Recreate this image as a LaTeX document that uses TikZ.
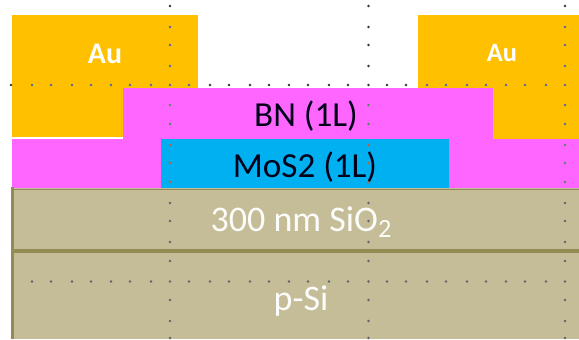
\documentclass[tikz,border=0pt]{standalone}
\usepackage{fontspec}
\setmainfont{Carlito}
\usetikzlibrary{positioning}

\definecolor{aucol}{HTML}{FFC000}
\definecolor{bncol}{HTML}{FF66FF}
\definecolor{moscol}{HTML}{00B0F0}
\definecolor{sicol}{HTML}{C4BD97}
\definecolor{edgecol}{HTML}{948A54}
\definecolor{dotblack}{HTML}{333333}
\definecolor{dotblue}{HTML}{4A67A8}
\definecolor{dotgreen}{HTML}{4E8A5A}
\definecolor{dotred}{HTML}{B8643C}
\definecolor{dotgray}{HTML}{62626E}

\tikzset{
    layertext/.style={font=\fontsize{20}{22}\selectfont, text=black!90!blue},
    oxidetext/.style={font=\fontsize{20.5}{22}\selectfont, text=white!95!sicol},
    autext/.style={font=\bfseries\fontsize{17}{19}\selectfont, text=white},
    griddot/.style={fill=#1}
}

\begin{document}
\begin{tikzpicture}[x=0.02cm, y=-0.02cm]
    \useasboundingbox (0,0) rectangle (579,339);

    % metal contacts
    \fill[aucol] (12,15) rectangle (198,137);
    \fill[aucol] (418,15) rectangle (579,139);

    % flakes
    \fill[bncol] (12,139) rectangle (579,188);
    \fill[bncol] (123,88) rectangle (493,139);
    \fill[moscol] (161,139) rectangle (449,188);

    % substrate
    \fill[sicol] (12,188) rectangle (579,339);
    \draw[edgecol, line width=2pt] (12.5,187) -- (12.5,339);
    \draw[edgecol, line width=1pt] (12,189.5) -- (579,189.5);
    \draw[edgecol, line width=1.8pt] (12,251) -- (579,251);

    % dotted guides
    \foreach \dotcol/\xlist in {dotblack/{11,210,229,250,269,289,308,329,348,368.5,387,406},
                                dotblue/{32,51,72,91,111,130,151,170,189,427,446,467,486,506,525,546,565}}
        \foreach \posx in \xlist
            \fill[griddot=\dotcol] (\posx,85) circle (0.8pt);
    \foreach \posx in {32,51,72,91,111,130,151,170,189,210,229,250,269,289,308,329,348,368.5,387,406,427,446,467,486,506,525,546,565}
        \fill[griddot=dotgray] (\posx,281.5) circle (0.8pt);
    \foreach \posx/\dotcol/\ylist in {170/dotblack/{6},170/dotblue/{27,45,66},170/dotgreen/{105,124},170/dotred/{145,163,182},
                                      368.5/dotblack/{6,27,45,66},368.5/dotgreen/{105,124},368.5/dotred/{145,163,182},
                                      565/dotblack/{6},565/dotblue/{27,45,66,105,124},565/dotgreen/{145,163,182}}
        \foreach \posy in \ylist
            \fill[griddot=\dotcol] (\posx,\posy) circle (0.8pt);
    \foreach \posx in {170,368.5,565}
        \foreach \posy in {203,221,242,261,300,321,338}
            \fill[griddot=dotgray] (\posx,\posy) circle (0.8pt);

    % labels
    \node[autext] (auleft) at (105,54) {Au};
    \node[autext, font=\bfseries\fontsize{15}{17}\selectfont] (auright) at (502,53) {Au};
    \node[layertext] (bn) at (306,116) {BN (1L)};
    \node[layertext] (mos) at (305,167) {MoS2 (1L)};
    \node[oxidetext] (oxide) at (301,222) {300 nm SiO\raisebox{-0.35ex}{\fontsize{15}{17}\selectfont 2}};
    \node[oxidetext] (psi) at (301,301) {p-Si};
\end{tikzpicture}
\end{document}
